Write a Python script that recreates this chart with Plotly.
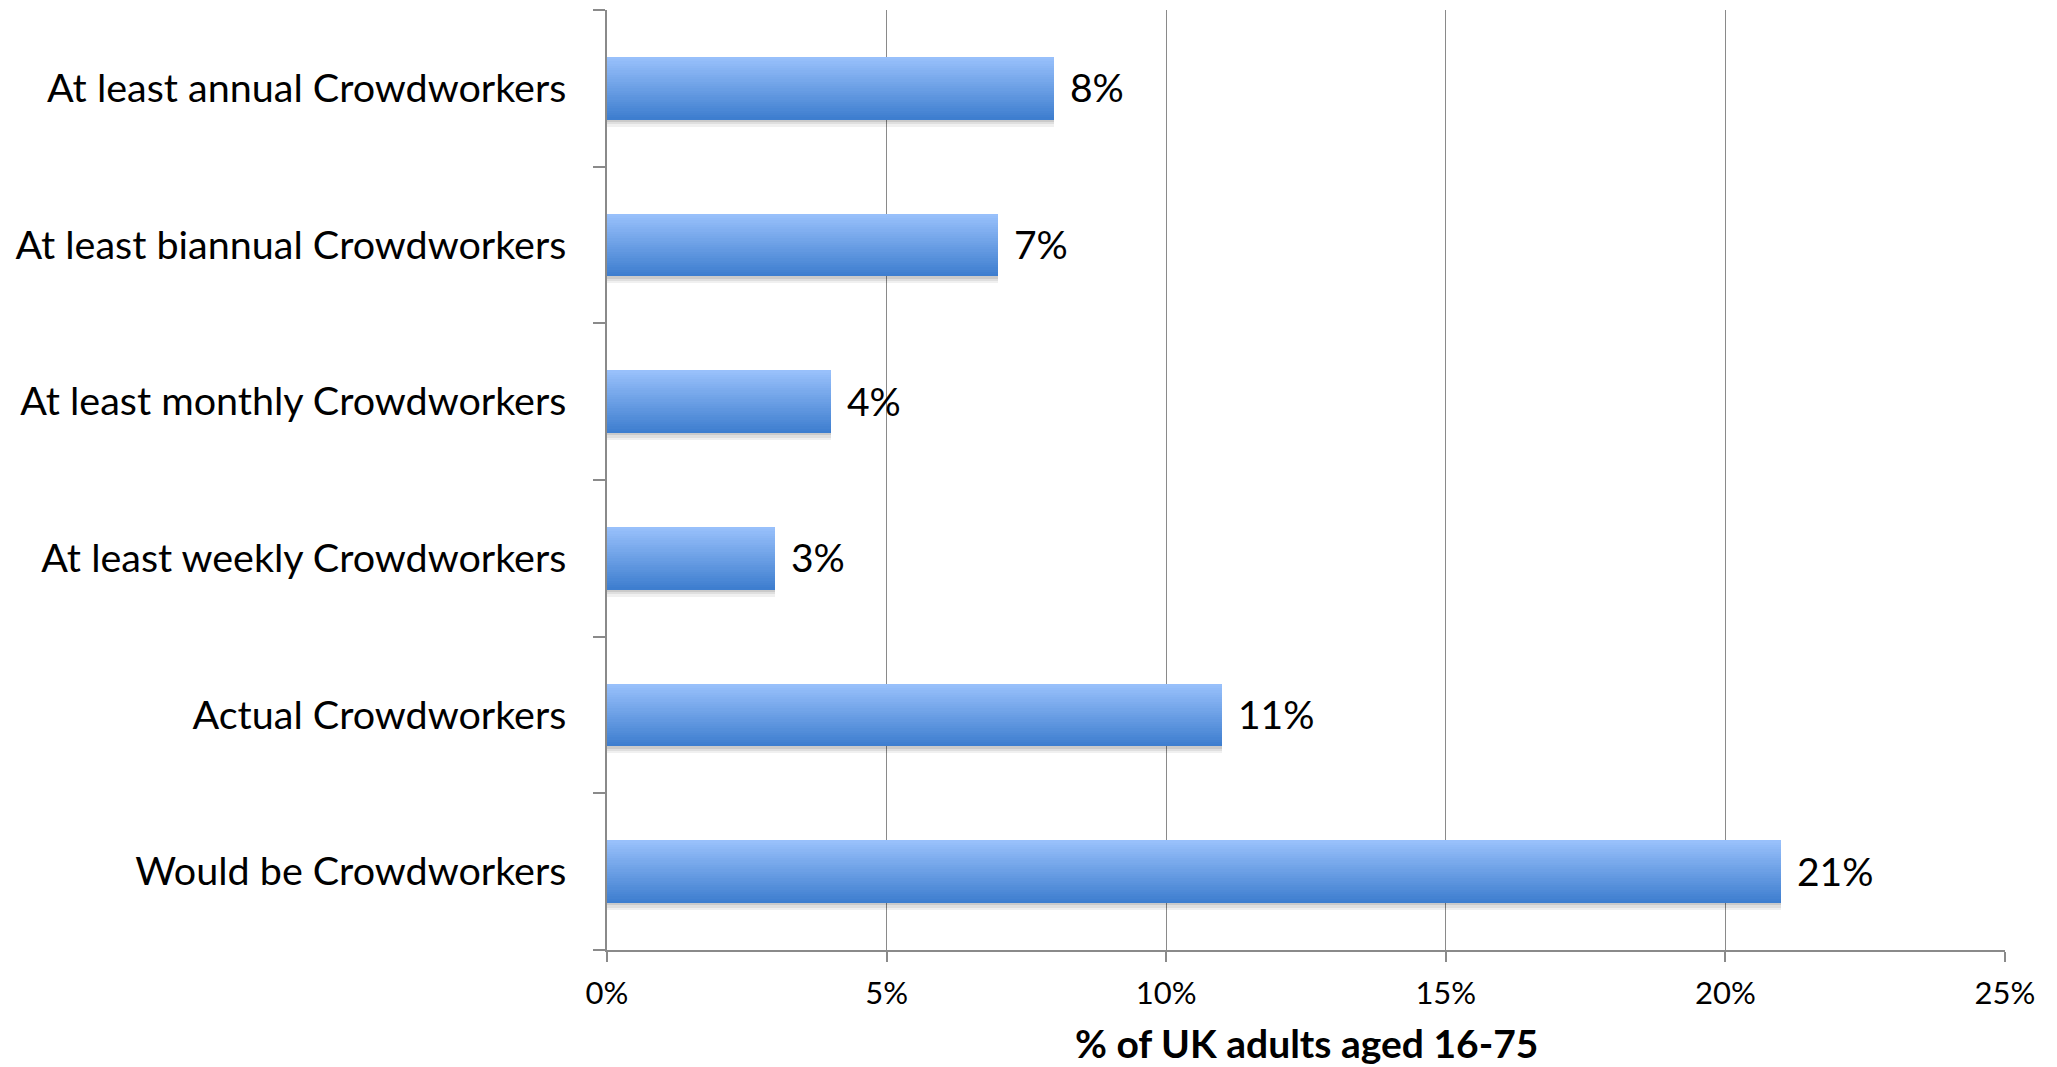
import plotly.graph_objects as go

# ---- data ----
categories = [
    "Would be Crowdworkers",
    "Actual Crowdworkers",
    "At least weekly Crowdworkers",
    "At least monthly Crowdworkers",
    "At least biannual Crowdworkers",
    "At least annual Crowdworkers",
]
values = [21, 11, 3, 4, 7, 8]
x_tickvals = [0, 5, 10, 15, 20, 25]
x_ticktext = ["0%", "5%", "10%", "15%", "20%", "25%"]
x_title = "% of UK adults aged 16-75"

# ---- style ----
FONT = "Lato, Carlito, Calibri, sans-serif"
BAR_W = 0.40
N_STEPS = 28
LIGHT = (152, 192, 251)
DARK = (62, 126, 207)
GRID = "#8a8a8a"

fig = go.Figure()

# soft drop shadow (layered for a fading edge)
for k, a in enumerate([0.06, 0.07, 0.09]):
    fig.add_trace(go.Bar(
        y=categories, x=values, orientation="h",
        width=BAR_W, offset=-BAR_W / 2 - 0.045 + 0.015 * k,
        marker=dict(color="rgba(0,0,0,%.2f)" % a, line=dict(width=0)),
        hoverinfo="skip", showlegend=False,
    ))

# gradient: nested bars from the bottom edge, tallest (lightest) first
for i in range(N_STEPS):
    t = i / (N_STEPS - 1)
    col = tuple(round(LIGHT[k] + (DARK[k] - LIGHT[k]) * t) for k in range(3))
    h = BAR_W * (N_STEPS - i) / N_STEPS
    fig.add_trace(go.Bar(
        y=categories, x=values, orientation="h",
        width=h, offset=-BAR_W / 2,
        marker=dict(color="rgb(%d,%d,%d)" % col, line=dict(width=0)),
        hoverinfo="skip", showlegend=False,
    ))

for c, v in zip(categories, values):
    fig.add_annotation(
        x=v, y=c, text=f"{v}%", showarrow=False,
        xanchor="left", yanchor="middle", xshift=14, yshift=1,
        font=dict(family=FONT, size=39, color="black"),
    )

# axis title placed below the tick labels
fig.add_annotation(
    x=0.5, y=-0.099, xref="paper", yref="paper",
    text="<b>" + x_title + "</b>", showarrow=False,
    xanchor="center", yanchor="middle",
    font=dict(family=FONT, size=39, color="black"),
)

# page body has an 8px margin, so the figure is sized/offset accordingly
fig.update_layout(
    width=2049, height=1059,
    margin=dict(l=599, r=52, t=2, b=117),
    paper_bgcolor="white", plot_bgcolor="white",
    barmode="overlay", bargap=0,
    showlegend=False,
    font=dict(family=FONT, color="black"),
)

fig.update_xaxes(
    range=[0, 25], automargin=False,
    tickvals=x_tickvals, ticktext=x_ticktext,
    showgrid=True, gridcolor=GRID, gridwidth=1.3,
    showline=True, linecolor=GRID, linewidth=1.5,
    ticks="outside", ticklen=10, tickcolor=GRID, tickwidth=1.5,
    tickfont=dict(family=FONT, size=31, color="black"),
    ticklabelstandoff=5,
    zeroline=False,
)

fig.update_yaxes(
    type="category", categoryorder="array", categoryarray=categories,
    range=[-0.5, 5.5], automargin=False,
    showgrid=False,
    showline=True, linecolor=GRID, linewidth=1.5,
    ticks="outside", ticklen=12, tickcolor=GRID, tickwidth=1.5,
    tickson="boundaries",
    tickfont=dict(family=FONT, size=39.5, color="black"),
    ticklabelstandoff=31,
    zeroline=False,
)

fig.write_html("out.html")
